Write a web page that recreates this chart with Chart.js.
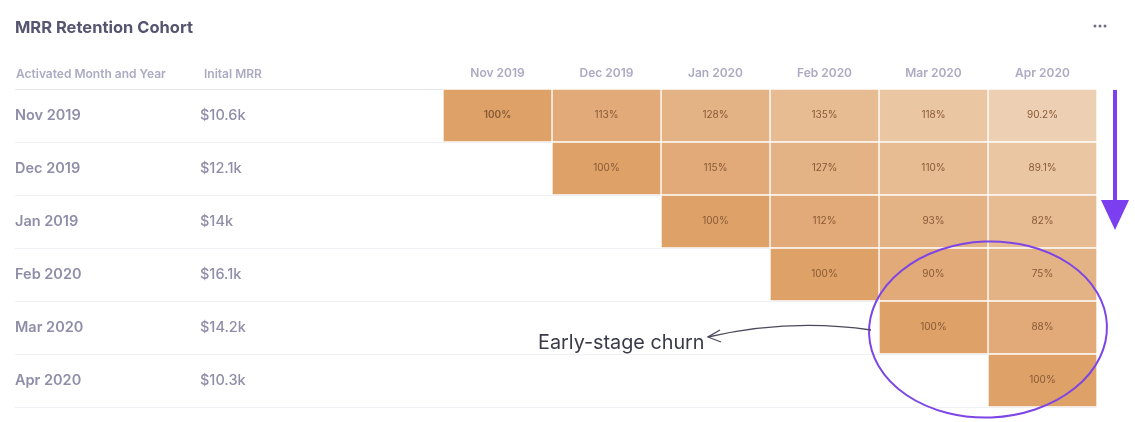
<!DOCTYPE html>
<html lang="en">
<head>
  <meta charset="utf-8">
  <title>MRR Retention Cohort</title>
  <script src="https://cdn.jsdelivr.net/npm/chart.js@4.4.1/dist/chart.umd.min.js"></script>
  <style>
    html, body { margin: 0; padding: 0; background: #fff; }
    #cohort { display: block; }
  </style>
</head>
<body>
  <canvas id="cohort" width="1135" height="422"></canvas>

  <script>
    // column headers (calendar month) and cohort rows
    var months = ['Nov 2019', 'Dec 2019', 'Jan 2020', 'Feb 2020', 'Mar 2020', 'Apr 2020'];
    var cohorts = ['Nov 2019', 'Dec 2019', 'Jan 2019', 'Feb 2020', 'Mar 2020', 'Apr 2020'];
    var initialMrr = ['$10.6k', '$12.1k', '$14k', '$16.1k', '$14.2k', '$10.3k'];

    // MRR retention (%) per cohort, starting at its activation month
    var nov2019 = [100, 113, 128, 135, 118, 90.2];
    var dec2019 = [100, 115, 127, 110, 89.1];
    var jan2019 = [100, 112, 93, 82];
    var feb2020 = [100, 90, 75];
    var mar2020 = [100, 88];
    var apr2020 = [100];
    var retention = [nov2019, dec2019, jan2019, feb2020, mar2020, apr2020];

    // shade by months since activation
    var ageColors = ['#dea269', '#e1aa78', '#e3b285', '#e7bc93', '#eac6a3', '#edd0b3'];

    // one floating-bar dataset per column; row r has a cell from its own month on
    var datasets = months.map(function (m, c) {
      return {
        label: m,
        xAxisID: 'x',
        yAxisID: 'y',
        data: cohorts.map(function (_, r) { return c >= r ? [c, c + 1] : null; }),
        backgroundColor: cohorts.map(function (_, r) { return c >= r ? ageColors[c - r] : 'transparent'; }),
        borderColor: 'rgba(255,255,255,0.9)',
        borderWidth: 1,
        borderSkipped: false,
        grouped: false,
        barPercentage: 1,
        categoryPercentage: 1
      };
    });

    var cellText = {
      id: 'cellText',
      afterDatasetsDraw: function (chart) {
        var ctx = chart.ctx;
        ctx.save();
        ctx.textAlign = 'center';
        ctx.textBaseline = 'middle';
        ctx.fillStyle = '#885935';
        chart.data.datasets.forEach(function (ds, c) {
          var meta = chart.getDatasetMeta(c);
          meta.data.forEach(function (bar, r) {
            if (ds.data[r] == null) return;
            var p = bar.getCenterPoint();
            ctx.font = (r === 0 && c === 0 ? '600 ' : '400 ') + '10px Inter';
            ctx.fillText(retention[r][c - r] + '%', p.x, p.y - 1);
          });
        });
        ctx.restore();
      }
    };

    var extras = {
      id: 'extras',
      afterDraw: function (chart) {
        var ctx = chart.ctx;
        var a = chart.chartArea;
        var sx = chart.scales.x, sy = chart.scales.y;
        ctx.save();

        // left column headers
        ctx.fillStyle = '#acaac3';
        ctx.font = '600 12px Inter';
        ctx.textBaseline = 'middle';
        ctx.textAlign = 'left';
        ctx.fillText('Activated Month and Year', chart.scales.y.left + 1, a.top - 15);
        ctx.fillText('Inital MRR', chart.scales.y2.left + 4, a.top - 15);

        // menu dots
        ctx.fillStyle = '#6f6e84';
        [1095, 1100, 1105].forEach(function (x) {
          ctx.beginPath(); ctx.arc(x, 26, 1.5, 0, Math.PI * 2); ctx.fill();
        });

        // purple down arrow
        var ax = a.right + 18;
        ctx.strokeStyle = '#7b3ff0';
        ctx.fillStyle = '#7b3ff0';
        ctx.lineWidth = 4;
        ctx.beginPath(); ctx.moveTo(ax, a.top + 1); ctx.lineTo(ax, 205); ctx.stroke();
        ctx.beginPath(); ctx.moveTo(ax - 14, 200); ctx.lineTo(ax + 14, 200); ctx.lineTo(ax, 230); ctx.closePath(); ctx.fill();

        // ellipse around the early-stage cells
        var cx = sx.getPixelForValue(5), cy = sy.getPixelForValue(4) + 2;
        ctx.lineWidth = 2;
        ctx.strokeStyle = '#7d45e6';
        ctx.beginPath();
        ctx.ellipse(cx, cy, 119, 88, -0.04, 0, Math.PI * 2);
        ctx.stroke();

        // curved pointer and note
        ctx.strokeStyle = '#4b4a5c';
        ctx.lineWidth = 1.3;
        ctx.beginPath();
        ctx.moveTo(871, 330);
        ctx.quadraticCurveTo(790, 318, 708, 337);
        ctx.stroke();
        ctx.beginPath();
        ctx.moveTo(720, 330); ctx.lineTo(708, 337); ctx.lineTo(721, 342);
        ctx.stroke();

        ctx.fillStyle = '#393948';
        ctx.font = '400 19.8px Inter';
        ctx.textAlign = 'left';
        ctx.fillText('Early-stage churn', 538, 343);
        ctx.restore();
      }
    };

    function gridColor(ctx) {
      return ctx.index === 0 ? '#e6e6ec' : '#f0f0f4';
    }

    Chart.defaults.font.family = 'Inter';

    new Chart(document.getElementById('cohort'), {
      type: 'bar',
      data: { labels: cohorts, datasets: datasets },
      options: {
        indexAxis: 'y',
        responsive: false,
        animation: false,
        layout: { padding: { left: 15, right: 38, top: 0, bottom: 15 } },
        plugins: {
          legend: { display: false },
          tooltip: { enabled: false },
          title: {
            display: true,
            text: 'MRR Retention Cohort',
            align: 'start',
            color: '#56546f',
            font: { size: 16.5, weight: '700' },
            padding: { top: 18, bottom: 8 }
          }
        },
        scales: {
          x: { type: 'linear', min: 0, max: 6, display: false },
          xTop: {
            type: 'category',
            labels: months,
            position: 'top',
            offset: true,
            grid: { display: false, drawTicks: false },
            border: { display: false },
            ticks: { color: '#acaac3', font: { size: 12, weight: '600' }, padding: 8, autoSkip: false, maxRotation: 0 },
            afterFit: function (s) { s.height = 43.2; }
          },
          y: {
            type: 'category',
            labels: cohorts,
            position: 'left',
            offset: true,
            weight: 2,
            grid: { offset: true, color: gridColor, tickLength: 185 },
            border: { display: false },
            ticks: { crossAlign: 'far', color: '#8f8da8', font: { size: 14.5, weight: '600' }, autoSkip: false },
            afterFit: function (s) { s.width = 185; }
          },
          y2: {
            type: 'category',
            labels: initialMrr,
            position: 'left',
            offset: true,
            weight: 1,
            grid: { offset: true, drawOnChartArea: false, color: gridColor, tickLength: 243 },
            border: { display: false },
            ticks: { crossAlign: 'far', color: '#8f8da8', font: { size: 14.5, weight: '500' }, autoSkip: false },
            afterFit: function (s) { s.width = 243; }
          }
        }
      },
      plugins: [cellText, extras]
    });
  </script>
</body>
</html>
